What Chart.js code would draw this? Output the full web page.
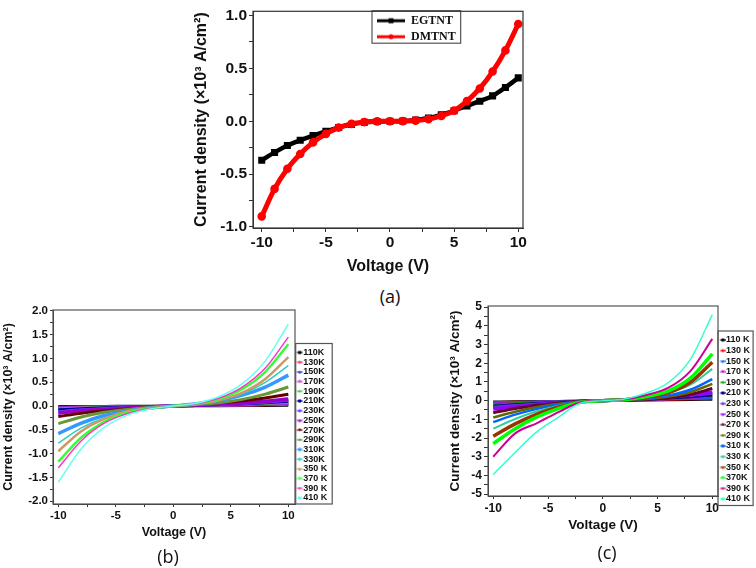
<!DOCTYPE html>
<html>
<head>
<meta charset="utf-8">
<script src="https://cdn.jsdelivr.net/npm/chart.js@4.4.1/dist/chart.umd.min.js"></script>
<style>
  body { margin: 0; background: #fff; width: 756px; height: 568px; position: relative; overflow: hidden; }
  canvas { position: absolute; }
  .tag { position: absolute; font-family: "Open Sans", sans-serif; font-size: 18px; color: #111; transform: translate(-50%, -50%); }
</style>
</head>
<body>
<canvas id="chartA" width="360" height="280" style="left:180px;top:0"></canvas>
<canvas id="chartB" width="336" height="278" style="left:0;top:290px"></canvas>
<canvas id="chartC" width="336" height="278" style="left:420px;top:290px"></canvas>
<div class="tag" style="left:390px;top:296px">(a)</div>
<div class="tag" style="left:168px;top:556px">(b)</div>
<div class="tag" style="left:607px;top:552px">(c)</div>
<script>
// ---- panel (a) ----
var voltsA = [-10, -9, -8, -7, -6, -5, -4, -3, -2, -1, 0, 1, 2, 3, 4, 5, 6, 7, 8, 9, 10];
var egtnt = [-0.37, -0.295, -0.23, -0.18, -0.135, -0.095, -0.06, -0.03, -0.01, -0.002, 0, 0.002, 0.012, 0.03, 0.06, 0.1, 0.145, 0.19, 0.24, 0.32, 0.41];
var dmtnt = [-0.9, -0.64, -0.45, -0.31, -0.2, -0.12, -0.06, -0.025, -0.008, -0.001, 0, 0.001, 0.006, 0.02, 0.05, 0.1, 0.19, 0.31, 0.47, 0.67, 0.92];
var xTicksA = [-10, -7.5, -5, -2.5, 0, 2.5, 5, 7.5, 10];
var yTicksA = [-1, -0.75, -0.5, -0.25, 0, 0.25, 0.5, 0.75, 1];

// ---- panels (b) and (c) ----
var voltsBC = [-10, -8, -6, -4, -2, 0, 2, 4, 6, 8, 10];
var xTicksBC = [-10, -7.5, -5, -2.5, 0, 2.5, 5, 7.5, 10];
var yTicksB = [-2, -1.75, -1.5, -1.25, -1, -0.75, -0.5, -0.25, 0, 0.25, 0.5, 0.75, 1, 1.25, 1.5, 1.75, 2];
var yTicksC = [-5, -4.5, -4, -3.5, -3, -2.5, -2, -1.5, -1, -0.5, 0, 0.5, 1, 1.5, 2, 2.5, 3, 3.5, 4, 4.5, 5];

var namesB = ["110K", "130K", "150K", "170K", "190K", "210K", "230K", "250K", "270K", "290K", "310K", "330K", "350 K", "370 K", "390 K", "410 K"];
var namesC = ["110 K", "130 K", "150 K", "170 K", "190 K", "210 K", "230 K", "250 K", "270 K", "290 K", "310 K", "330 K", "350 K", "370K", "390 K", "410 K"];

var b110 = [-0.005, -0.003, -0.002, -0.001, 0, 0, 0.001, 0.003, 0.005, 0.007, 0.01];
var b130 = [-0.02, -0.014, -0.009, -0.005, -0.002, 0, 0.004, 0.008, 0.013, 0.02, 0.03];
var b150 = [-0.03, -0.02, -0.013, -0.008, -0.004, 0, 0.006, 0.013, 0.022, 0.034, 0.05];
var b170 = [-0.04, -0.027, -0.018, -0.011, -0.005, 0, 0.007, 0.016, 0.027, 0.041, 0.06];
var b190 = [-0.06, -0.041, -0.027, -0.016, -0.007, 0, 0.01, 0.02, 0.036, 0.055, 0.08];
var b210 = [-0.08, -0.055, -0.036, -0.02, -0.01, 0, 0.01, 0.03, 0.045, 0.07, 0.1];
var b230 = [-0.12, -0.08, -0.05, -0.03, -0.015, 0, 0.015, 0.03, 0.05, 0.08, 0.12];
var b250 = [-0.15, -0.1, -0.07, -0.04, -0.02, 0, 0.02, 0.04, 0.07, 0.1, 0.15];
var b270 = [-0.22, -0.15, -0.1, -0.06, -0.03, 0, 0.03, 0.07, 0.11, 0.17, 0.25];
var b290 = [-0.37, -0.23, -0.13, -0.07, -0.03, 0, 0.03, 0.07, 0.14, 0.25, 0.4];
var b310 = [-0.58, -0.36, -0.2, -0.11, -0.04, 0, 0.05, 0.12, 0.23, 0.4, 0.65];
var b330 = [-0.78, -0.46, -0.25, -0.13, -0.05, 0, 0.05, 0.14, 0.26, 0.5, 0.85];
var b350 = [-0.95, -0.53, -0.27, -0.11, -0.04, 0, 0.04, 0.12, 0.28, 0.57, 1.03];
var b370 = [-1.17, -0.66, -0.33, -0.14, -0.05, 0, 0.05, 0.15, 0.36, 0.72, 1.3];
var b390 = [-1.3, -0.73, -0.36, -0.16, -0.05, 0, 0.05, 0.17, 0.4, 0.8, 1.45];
var b410 = [-1.6, -0.9, -0.45, -0.19, -0.06, 0, 0.06, 0.2, 0.47, 0.95, 1.72];

var c110 = [-0.05, -0.037, -0.025, -0.015, -0.005, 0, 0.005, 0.012, 0.022, 0.035, 0.05];
var c130 = [-0.08, -0.058, -0.04, -0.024, -0.008, 0, 0.01, 0.025, 0.045, 0.07, 0.1];
var c150 = [-0.1, -0.073, -0.05, -0.03, -0.01, 0, 0.015, 0.04, 0.07, 0.105, 0.15];
var c170 = [-0.15, -0.11, -0.075, -0.045, -0.015, 0, 0.02, 0.05, 0.09, 0.14, 0.2];
var c190 = [-0.2, -0.146, -0.1, -0.06, -0.02, 0, 0.025, 0.06, 0.11, 0.175, 0.25];
var c210 = [-0.3, -0.22, -0.15, -0.09, -0.03, 0, 0.03, 0.075, 0.135, 0.21, 0.3];
var c230 = [-0.35, -0.255, -0.175, -0.105, -0.035, 0, 0.04, 0.1, 0.18, 0.28, 0.4];
var c250 = [-0.45, -0.33, -0.225, -0.135, -0.045, 0, 0.045, 0.11, 0.2, 0.32, 0.45];
var c270 = [-0.65, -0.42, -0.25, -0.12, -0.03, 0, 0.02, 0.065, 0.16, 0.33, 0.65];
var c290 = [-0.9, -0.59, -0.34, -0.16, -0.04, 0, 0.03, 0.09, 0.22, 0.45, 0.9];
var c310 = [-1.15, -0.75, -0.44, -0.21, -0.05, 0, 0.035, 0.115, 0.28, 0.58, 1.15];
var c330 = [-1.5, -0.98, -0.57, -0.27, -0.06, 0, 0.05, 0.17, 0.41, 0.85, 1.7];
var c350 = [-1.9, -1.24, -0.72, -0.34, -0.08, 0, 0.04, 0.18, 0.43, 0.98, 2.05];
var c370 = [-2.3, -1.5, -0.87, -0.41, -0.09, 0, 0.05, 0.22, 0.52, 1.2, 2.5];
var c390 = [-3.0, -1.75, -1.2, -0.6, -0.09, 0, 0.07, 0.3, 0.69, 1.58, 3.3];
var c410 = [-3.95, -2.77, -1.66, -0.87, -0.12, 0, 0.09, 0.41, 0.97, 2.21, 4.6];

var seriesB = [b110, b130, b150, b170, b190, b210, b230, b250, b270, b290, b310, b330, b350, b370, b390, b410];
var seriesC = [c110, c130, c150, c170, c190, c210, c230, c250, c270, c290, c310, c330, c350, c370, c390, c410];

var colorsB = ["#000000", "#ff3366", "#3333cc", "#cc33cc", "#33cc33", "#000099", "#6633ff", "#9900cc", "#660000", "#669933", "#3399ff", "#33ccbb", "#cc9966", "#33ff33", "#ff33cc", "#66ffee"];
var colorsC = ["#000000", "#ff0000", "#0066ff", "#cc00cc", "#009900", "#000099", "#6633cc", "#9900ff", "#660033", "#666600", "#0066ff", "#33cc99", "#993300", "#00ff00", "#cc0099", "#33ffcc"];
var widthsB = [2.5, 2.5, 2.5, 2.5, 2.5, 3, 3, 3.5, 3, 3, 3.5, 1.5, 2.5, 2.5, 1.5, 1.5];
var widthsC = [2, 2, 2, 2, 2, 3, 3, 3.5, 3, 2.5, 2.5, 2, 3.5, 3.5, 2, 1.5];
var shapes = ["rect", "circle", "triangle", "down", "diamond"];

var TITLE_Y = "Current density (\u00d710\u00b3 A/cm\u00b2)";
var TITLE_X = "Voltage (V)";

// small legend sample: a line with a marker, drawn into its own canvas
function makeIcon(color, shape, w, h, x0, x1, lw, r) {
  var c = document.createElement("canvas");
  c.width = w; c.height = h;
  var g = c.getContext("2d");
  var cy = h / 2, cx = (x0 + x1) / 2;
  g.strokeStyle = color; g.fillStyle = color; g.lineWidth = lw;
  g.beginPath(); g.moveTo(x0, cy); g.lineTo(x1, cy); g.stroke();
  g.beginPath();
  if (shape === "rect") g.rect(cx - r, cy - r, 2 * r, 2 * r);
  else if (shape === "triangle") { g.moveTo(cx, cy - r); g.lineTo(cx + r, cy + r); g.lineTo(cx - r, cy + r); }
  else if (shape === "down") { g.moveTo(cx, cy + r); g.lineTo(cx + r, cy - r); g.lineTo(cx - r, cy - r); }
  else if (shape === "diamond") { g.moveTo(cx, cy - r); g.lineTo(cx + r, cy); g.lineTo(cx, cy + r); g.lineTo(cx - r, cy); }
  else g.arc(cx, cy, r, 0, Math.PI * 2);
  g.fill();
  return c;
}

function points(xs, ys) {
  return xs.map(function (x, i) { return { x: x, y: ys[i] }; });
}

var framePlugin = {
  id: "frame",
  afterDraw: function (chart, args, opts) {
    var a = chart.chartArea, c = chart.ctx;
    c.save();
    c.strokeStyle = opts.color; c.lineWidth = opts.width;
    c.strokeRect(a.left, a.top, a.right - a.left, a.bottom - a.top);
    c.restore();
  }
};

var legendFrame = {
  id: "legendFrame",
  afterDraw: function (chart, args, opts) {
    var hb = chart.legend.legendHitBoxes;
    if (!hb || !hb.length) return;
    var l = Math.min.apply(null, hb.map(function (b) { return b.left; }));
    var r = Math.max.apply(null, hb.map(function (b) { return b.left + b.width; }));
    var t = Math.min.apply(null, hb.map(function (b) { return b.top; }));
    var bt = Math.max.apply(null, hb.map(function (b) { return b.top + b.height; }));
    var c = chart.ctx;
    c.save();
    c.strokeStyle = opts.color; c.lineWidth = opts.width;
    c.strokeRect(l - opts.l, t - opts.t, r - l + opts.l + opts.r, bt - t + opts.t + opts.b);
    c.restore();
  }
};

// moves the in-plot legend of panel (a) to its spot
var legendMove = {
  id: "legendMove",
  afterLayout: function (chart, args, opts) {
    chart.legend.left = opts.left;
    chart.legend.top = opts.top;
  }
};

function axis(o) {
  return {
    type: "linear",
    min: o.min, max: o.max,
    afterFit: function (s) { if (o.w) s.width = o.w; if (o.h) s.height = o.h; },
    afterBuildTicks: function (s) { s.ticks = o.ticks.map(function (v) { return { value: v }; }); },
    grid: { drawOnChartArea: false, drawTicks: true, tickLength: o.tickLen, color: "#333", lineWidth: 1 },
    border: { display: true, color: "#333", width: 1 },
    ticks: {
      autoSkip: false, maxRotation: 0, padding: o.tickPad, color: "#111",
      font: { family: "Liberation Sans", weight: "bold", size: o.tickSize },
      callback: o.fmt
    },
    title: {
      display: true, text: o.title, color: "#111", padding: o.titlePad,
      font: { family: "Liberation Sans", weight: "bold", size: o.titleSize }
    }
  };
}

function fmtHalf(v) { return Math.abs(v * 2 - Math.round(v * 2)) < 1e-9 ? v.toFixed(1) : ""; }
function fmtInt(v) { return Math.abs(v - Math.round(v)) < 1e-9 ? String(v) : ""; }
function fmtFive(v) { return Math.abs(v / 5 - Math.round(v / 5)) < 1e-9 ? String(v) : ""; }

// ---- chart (a) ----
var iconsA = [makeIcon("#000", "rect", 28, 8, 0, 28, 3, 2.5), makeIcon("#ff0000", "circle", 28, 8, 0, 28, 3, 2.5)];

new Chart(document.getElementById("chartA"), {
  type: "line",
  data: {
    datasets: [
      { label: "EGTNT", data: points(voltsA, egtnt), borderColor: "#000", backgroundColor: "#000", borderWidth: 4.5,
        pointStyle: "rect", pointRadius: 1.8, cubicInterpolationMode: "monotone", order: 1 },
      { label: "DMTNT", data: points(voltsA, dmtnt), borderColor: "#ff0000", backgroundColor: "#ff0000", borderWidth: 5,
        pointStyle: "circle", pointRadius: 1.8, cubicInterpolationMode: "monotone", order: 0 }
    ]
  },
  options: {
    responsive: false, animation: false, events: [],
    layout: { autoPadding: false, padding: { left: 0, top: 3, right: 17, bottom: 3.4 } },
    scales: {
      x: axis({ min: -10.68, max: 10.37, ticks: xTicksA, fmt: fmtFive, h: 48.6, tickLen: 4, tickPad: 1,
        tickSize: 15.5, title: TITLE_X, titleSize: 16, titlePad: { top: 0, bottom: 0 } }),
      y: axis({ min: -1.01, max: 1.04, ticks: yTicksA, fmt: fmtHalf, w: 73, tickLen: 4, tickPad: 2,
        tickSize: 15.5, title: TITLE_Y, titleSize: 16, titlePad: { top: 12.4, bottom: 0 } })
    },
    plugins: {
      tooltip: { enabled: false },
      legend: {
        position: "chartArea", align: "start",
        labels: {
          usePointStyle: true, pointStyleWidth: 28, padding: 4, color: "#111",
          font: { family: "Liberation Serif", weight: "bold", size: 12 },
          sort: function (a, b) { return a.datasetIndex - b.datasetIndex; },
          generateLabels: function (chart) {
            var items = Chart.defaults.plugins.legend.labels.generateLabels(chart);
            items.forEach(function (it) { it.pointStyle = iconsA[it.datasetIndex]; });
            return items;
          }
        }
      },
      legendMove: { left: 193, top: 10.7 },
      legendFrame: { color: "#555", width: 1.2, l: 5, r: 5, t: 4, b: 0.5 },
      frame: { color: "#333", width: 1.2 }
    }
  },
  plugins: [legendMove, legendFrame, framePlugin]
});

// ---- charts (b) and (c) ----
function tempChart(id, names, series, colors, widths, cfg) {
  var icons = colors.map(function (col, i) {
    return makeIcon(col, shapes[i % shapes.length], cfg.iconW, 6, cfg.iconX0, cfg.iconX1, 1.2, 1.5);
  });
  var datasets = series.map(function (ys, i) {
    return {
      label: names[i], data: points(voltsBC, ys), borderColor: colors[i], backgroundColor: colors[i],
      borderWidth: widths[i], pointRadius: 0, cubicInterpolationMode: "monotone", order: series.length - i
    };
  });
  return new Chart(document.getElementById(id), {
    type: "line",
    data: { datasets: datasets },
    options: {
      responsive: false, animation: false, events: [],
      layout: { autoPadding: false, padding: cfg.pad },
      scales: { x: axis(cfg.x), y: axis(cfg.y) },
      plugins: {
        tooltip: { enabled: false },
        legend: {
          position: "right", align: "center", maxWidth: cfg.legendW,
          labels: {
            usePointStyle: true, pointStyleWidth: cfg.boxW, padding: cfg.rowPad, color: "#111",
            font: { family: "Liberation Sans", weight: "bold", size: 9 },
            sort: function (a, b) { return a.datasetIndex - b.datasetIndex; },
            generateLabels: function (chart) {
              var items = Chart.defaults.plugins.legend.labels.generateLabels(chart);
              items.forEach(function (it) { it.pointStyle = icons[it.datasetIndex]; });
              return items;
            }
          }
        },
        legendFrame: cfg.frameBox,
        frame: { color: "#555", width: 1.2 }
      }
    },
    plugins: [legendFrame, framePlugin]
  });
}

tempChart("chartB", namesB, seriesB, colorsB, widthsB, {
  pad: { left: 0, top: 20, right: 5, bottom: 27.5 },
  legendW: 36, boxW: 3, rowPad: 0.7, iconW: 12, iconX0: 5.5, iconX1: 11.5,
  frameBox: { color: "#555", width: 1.2, l: 0, r: 5, t: 4.5, b: 1.5 },
  x: { min: -10.46, max: 10.58, ticks: xTicksBC, fmt: fmtFive, h: 36.5, tickLen: 3, tickPad: 2,
    tickSize: 11.5, title: TITLE_X, titleSize: 12.5, titlePad: { top: 0, bottom: 0 } },
  y: { min: -2.06, max: 2.02, ticks: yTicksB, fmt: fmtHalf, w: 53, tickLen: 3, tickPad: 2,
    tickSize: 11.5, title: TITLE_Y, titleSize: 12.5, titlePad: { top: 1.5, bottom: 0 } }
});

tempChart("chartC", namesC, seriesC, colorsC, widthsC, {
  pad: { left: 0, top: 16, right: 2, bottom: 35 },
  legendW: 36, boxW: 2, rowPad: 1.6, iconW: 10, iconX0: 4.5, iconX1: 10,
  frameBox: { color: "#555", width: 1.2, l: 1.6, r: 3, t: 4.5, b: 2 },
  x: { min: -10.48, max: 10.52, ticks: xTicksBC, fmt: fmtFive, h: 37, tickLen: 3, tickPad: 2,
    tickSize: 12, title: TITLE_X, titleSize: 13.5, titlePad: { top: 0, bottom: 0 } },
  y: { min: -5.1, max: 5.06, ticks: yTicksC, fmt: fmtInt, w: 68, tickLen: 4, tickPad: 2,
    tickSize: 12, title: TITLE_Y, titleSize: 13.5, titlePad: { top: 27, bottom: 0 } }
});
</script>
</body>
</html>
